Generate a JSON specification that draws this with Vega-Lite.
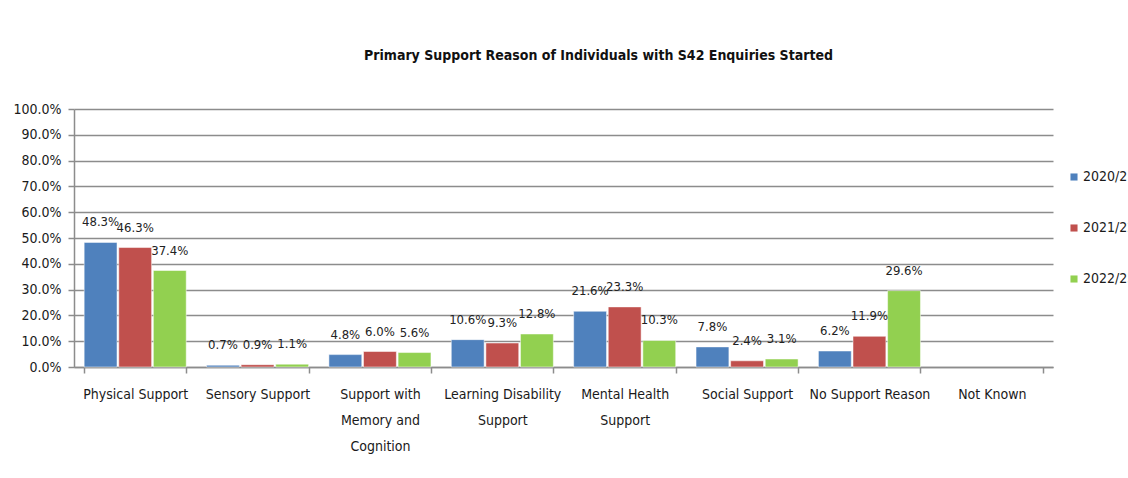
{
  "$schema": "https://vega.github.io/schema/vega-lite/v6.json",
  "autosize": {"type": "none"},
  "width": 979,
  "height": 258,
  "padding": {"left": 74, "top": 109, "right": 75, "bottom": 111},
  "background": "white",
  "config": {
    "font": "DejaVu Sans Condensed, sans-serif",
    "view": {"stroke": null},
    "axis": {"labelColor": "#1a1a1a", "labelFontSize": 14, "labelFont": "DejaVu Sans Condensed, sans-serif"}
  },
  "title": {
    "text": "Primary Support Reason of Individuals with S42 Enquiries Started",
    "fontSize": 14,
    "fontWeight": "bold",
    "color": "#111111",
    "anchor": "middle",
    "dx": 35,
    "offset": 39,
    "font": "DejaVu Sans Condensed, sans-serif"
  },
  "data": {
    "values": [
      {"reason": "Physical Support", "year": "2020/21", "pct": 0.483},
      {"reason": "Physical Support", "year": "2021/22", "pct": 0.463},
      {"reason": "Physical Support", "year": "2022/23", "pct": 0.374},
      {"reason": "Sensory Support", "year": "2020/21", "pct": 0.007},
      {"reason": "Sensory Support", "year": "2021/22", "pct": 0.009},
      {"reason": "Sensory Support", "year": "2022/23", "pct": 0.011},
      {"reason": "Support with Memory and Cognition", "year": "2020/21", "pct": 0.048},
      {"reason": "Support with Memory and Cognition", "year": "2021/22", "pct": 0.060},
      {"reason": "Support with Memory and Cognition", "year": "2022/23", "pct": 0.056},
      {"reason": "Learning Disability Support", "year": "2020/21", "pct": 0.106},
      {"reason": "Learning Disability Support", "year": "2021/22", "pct": 0.093},
      {"reason": "Learning Disability Support", "year": "2022/23", "pct": 0.128},
      {"reason": "Mental Health Support", "year": "2020/21", "pct": 0.216},
      {"reason": "Mental Health Support", "year": "2021/22", "pct": 0.233},
      {"reason": "Mental Health Support", "year": "2022/23", "pct": 0.103},
      {"reason": "Social Support", "year": "2020/21", "pct": 0.078},
      {"reason": "Social Support", "year": "2021/22", "pct": 0.024},
      {"reason": "Social Support", "year": "2022/23", "pct": 0.031},
      {"reason": "No Support Reason", "year": "2020/21", "pct": 0.062},
      {"reason": "No Support Reason", "year": "2021/22", "pct": 0.119},
      {"reason": "No Support Reason", "year": "2022/23", "pct": 0.296}
    ]
  },
  "encoding": {
    "x": {
      "field": "reason",
      "type": "nominal",
      "sort": null,
      "scale": {
        "domain": ["Physical Support", "Sensory Support", "Support with Memory and Cognition", "Learning Disability Support", "Mental Health Support", "Social Support", "No Support Reason", "Not Known"],
        "paddingInner": 0.166,
        "paddingOuter": 0.083
      },
      "axis": {
        "title": null,
        "labelAngle": 0,
        "grid": false,
        "domainColor": "#8c8c8c",
        "domainWidth": 1.5,
        "tickColor": "#8c8c8c",
        "tickWidth": 1.5,
        "tickSize": 6,
        "tickBand": "extent",
        "labelPadding": 14,
        "labelLineHeight": 26,
        "labelBaseline": "top",
        "labelOverlap": false,
        "labelExpr": "datum.label == 'Support with Memory and Cognition' ? ['Support with', 'Memory and', 'Cognition'] : datum.label == 'Learning Disability Support' ? ['Learning Disability', 'Support'] : datum.label == 'Mental Health Support' ? ['Mental Health', 'Support'] : datum.label"
      }
    },
    "xOffset": {"field": "year", "type": "nominal", "scale": {"paddingInner": 0.05}},
    "y": {
      "field": "pct",
      "type": "quantitative",
      "scale": {"domain": [0, 1], "nice": false},
      "axis": {
        "title": null,
        "format": ".1%",
        "values": [0, 0.1, 0.2, 0.3, 0.4, 0.5, 0.6, 0.7, 0.8, 0.9, 1.0],
        "labelOverlap": false,
        "gridColor": "#8c8c8c",
        "gridWidth": 1.5,
        "domainColor": "#8c8c8c",
        "domainWidth": 1.5,
        "tickColor": "#8c8c8c",
        "tickWidth": 1.5,
        "tickSize": 6,
        "labelPadding": 7
      }
    },
    "color": {
      "field": "year",
      "type": "nominal",
      "scale": {"domain": ["2020/21", "2021/22", "2022/23"], "range": ["#4F81BD", "#C0504D", "#92D050"]},
      "legend": {
        "title": null,
        "orient": "none",
        "legendX": 993,
        "legendY": 61,
        "symbolType": "square",
        "symbolSize": 50,
        "symbolStrokeWidth": 0,
        "labelFontSize": 14,
        "labelColor": "#1a1a1a",
        "labelFont": "DejaVu Sans Condensed, sans-serif",
        "rowPadding": 37,
        "labelOffset": 2
      }
    }
  },
  "layer": [
    {"mark": {"type": "bar", "stroke": "white", "strokeWidth": 0.5}},
    {
      "mark": {"type": "text", "baseline": "middle", "dy": -20, "fontSize": 13, "color": "#222222"},
      "encoding": {"text": {"field": "pct", "type": "quantitative", "format": ".1%"}, "color": {"value": "#222222"}}
    }
  ]
}
